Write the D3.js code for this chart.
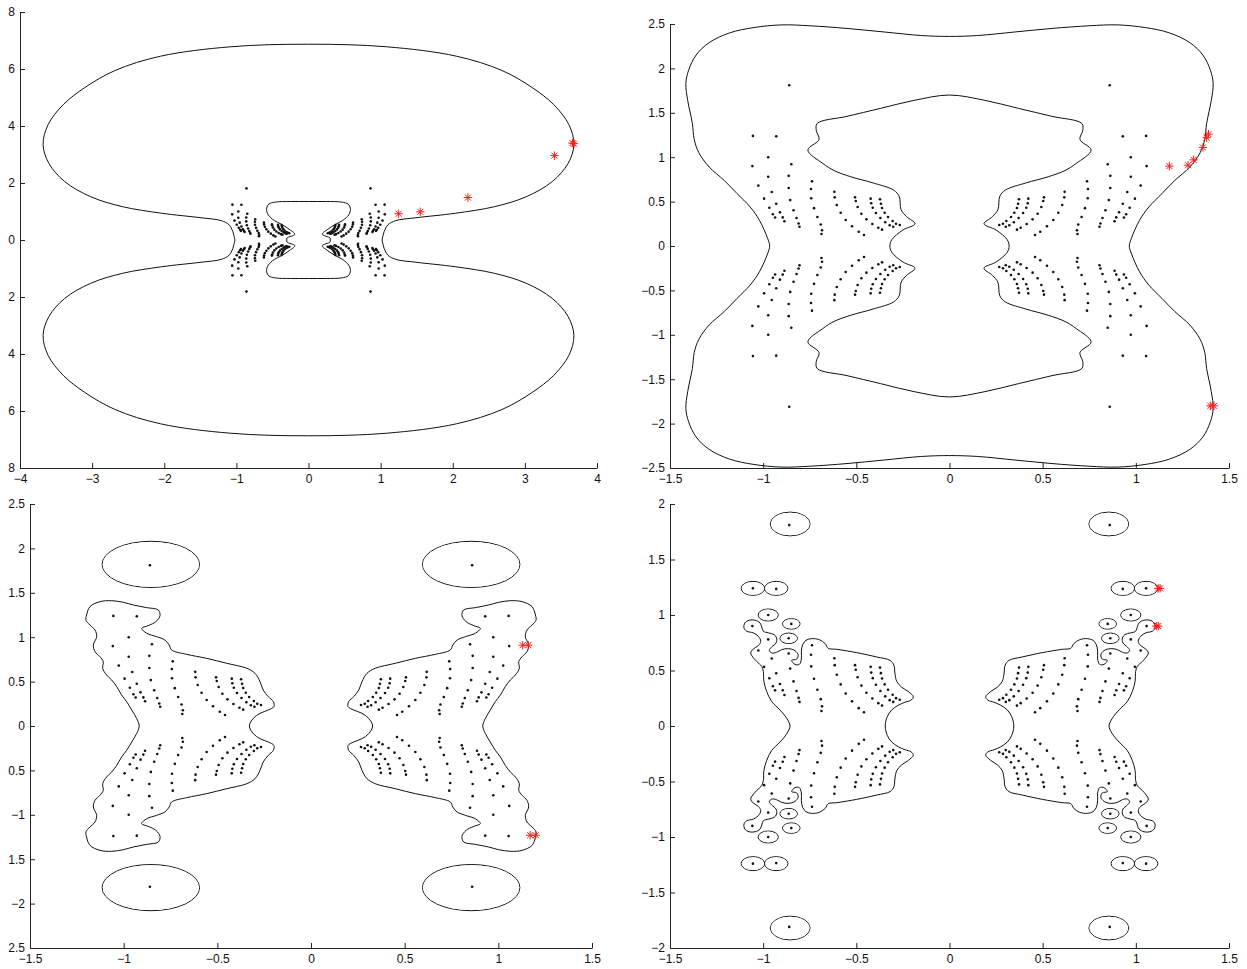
<!DOCTYPE html>
<html>
<head>
<meta charset="utf-8">
<script src="https://cdn.jsdelivr.net/npm/d3@7"></script>
<style>
  body { margin: 0; background: #fff; }
  text { font-family: "Liberation Sans", Arial, Helvetica, sans-serif; }
</style>
</head>
<body>
<svg id="fig" width="1247" height="969"></svg>
<script>
// eigenvalues, upper-left quadrant (the set is symmetric in x and y)
const eigQuadrant = [
  [-0.86, 1.81],
  [-1.055, 1.24], [-0.93, 1.235],
  [-0.973, 1.0],
  [-1.058, 0.90], [-0.849, 0.92],
  [-0.973, 0.78], [-0.863, 0.79],
  [-1.026, 0.68], [-0.954, 0.608], [-0.863, 0.653], [-0.738, 0.728], [-0.743, 0.642],
  [-0.995, 0.533], [-0.93, 0.475], [-0.855, 0.517], [-0.742, 0.537],
  [-0.967, 0.43], [-0.91, 0.379], [-0.837, 0.402], [-0.727, 0.426],
  [-0.948, 0.358], [-0.936, 0.321], [-0.895, 0.322], [-0.886, 0.279], [-0.821, 0.315], [-0.81, 0.253], [-0.805, 0.217],
  [-0.709, 0.327], [-0.691, 0.242], [-0.684, 0.177], [-0.687, 0.135],
  [-0.618, 0.61], [-0.616, 0.548], [-0.605, 0.462], [-0.584, 0.375], [-0.557, 0.293], [-0.523, 0.222], [-0.487, 0.161], [-0.459, 0.124],
  [-0.507, 0.548], [-0.503, 0.507], [-0.493, 0.439], [-0.473, 0.364], [-0.446, 0.30], [-0.414, 0.248], [-0.382, 0.206], [-0.362, 0.184],
  [-0.423, 0.533], [-0.42, 0.481], [-0.412, 0.431], [-0.395, 0.372], [-0.371, 0.315], [-0.345, 0.267], [-0.321, 0.233], [-0.302, 0.217],
  [-0.373, 0.526], [-0.368, 0.476], [-0.362, 0.428], [-0.348, 0.375], [-0.33, 0.327], [-0.305, 0.282], [-0.287, 0.251], [-0.267, 0.236]
];

// contour lines (quarters / halves, mirrored below)
const tlOuterQuarter = [
  [-1.02, 0], [-1.03, 0.12], [-1.05, 0.3], [-1.10, 0.53], [-1.21, 0.68], [-1.49, 0.78], [-2.04, 0.94],
  [-2.58, 1.17], [-3.02, 1.52], [-3.38, 2.05], [-3.60, 2.69], [-3.68, 3.35], [-3.61, 4.05],
  [-3.40, 4.75], [-3.10, 5.35], [-2.68, 5.95], [-2.05, 6.45], [-1.08, 6.78], [0, 6.87]
];
const tlInnerQuarter = [
  [-0.30, 0], [-0.30, 0.07], [-0.19, 0.20], [-0.27, 0.38], [-0.36, 0.53], [-0.50, 0.73],
  [-0.57, 0.94], [-0.58, 1.12], [-0.55, 1.26], [-0.46, 1.33], [-0.25, 1.35], [0, 1.35]
];
const trOuterQuarter = [
  [-0.965, 0], [-0.975, 0.08], [-1.02, 0.29], [-1.07, 0.44], [-1.14, 0.59], [-1.21, 0.74],
  [-1.29, 0.89], [-1.345, 1.05], [-1.37, 1.2], [-1.38, 1.38], [-1.405, 1.64], [-1.415, 1.83],
  [-1.40, 1.98], [-1.36, 2.15], [-1.29, 2.29], [-1.18, 2.40], [-1.05, 2.46], [-0.90, 2.49],
  [-0.75, 2.48], [-0.55, 2.45], [-0.35, 2.41], [-0.15, 2.37], [0, 2.36]
];
const trInnerQuarter = [
  [-0.32, 0], [-0.31, 0.07], [-0.25, 0.18], [-0.185, 0.25], [-0.23, 0.33], [-0.26, 0.41],
  [-0.27, 0.56], [-0.30, 0.63], [-0.41, 0.71], [-0.53, 0.78], [-0.62, 0.85], [-0.68, 0.93],
  [-0.76, 1.08], [-0.70, 1.20], [-0.715, 1.30], [-0.71, 1.38], [-0.55, 1.46], [-0.37, 1.55],
  [-0.19, 1.64], [0, 1.70]
];
const blBlobHalf = [
  [-0.917, 0], [-0.931, 0.086], [-0.957, 0.18], [-0.984, 0.274], [-1.011, 0.349], [-1.037, 0.443],
  [-1.064, 0.518], [-1.091, 0.574], [-1.112, 0.65], [-1.109, 0.725], [-1.127, 0.781], [-1.153, 0.837],
  [-1.162, 0.912], [-1.144, 1.006], [-1.153, 1.081], [-1.18, 1.137], [-1.201, 1.19], [-1.198, 1.25],
  [-1.18, 1.344], [-1.127, 1.40], [-1.064, 1.411], [-1.002, 1.393], [-0.949, 1.363], [-0.877, 1.333],
  [-0.815, 1.306], [-0.806, 1.242], [-0.828, 1.175], [-0.869, 1.13], [-0.904, 1.10], [-0.877, 1.044],
  [-0.824, 1.006], [-0.78, 0.968], [-0.757, 0.912], [-0.744, 0.856], [-0.664, 0.807], [-0.557, 0.762],
  [-0.45, 0.706], [-0.343, 0.65], [-0.299, 0.593], [-0.272, 0.499], [-0.255, 0.405], [-0.228, 0.33],
  [-0.201, 0.274], [-0.198, 0.218], [-0.228, 0.18], [-0.272, 0.143], [-0.308, 0.086], [-0.329, 0]
];
const brBlobHalf = [
  [-0.856, 0], [-0.874, 0.07], [-0.91, 0.145], [-0.954, 0.22], [-0.981, 0.31], [-0.996, 0.401],
  [-0.999, 0.491], [-1.008, 0.537], [-1.035, 0.582], [-1.056, 0.622], [-1.067, 0.658], [-1.053, 0.694],
  [-1.026, 0.724], [-1.013, 0.763], [-1.026, 0.808], [-1.053, 0.839], [-1.089, 0.854], [-1.103, 0.884],
  [-1.098, 0.929], [-1.075, 0.953], [-1.044, 0.953], [-1.017, 0.929], [-1.008, 0.893], [-0.999, 0.854],
  [-0.972, 0.839], [-0.942, 0.824], [-0.928, 0.794], [-0.931, 0.748], [-0.954, 0.712], [-0.967, 0.682],
  [-0.954, 0.658], [-0.928, 0.664], [-0.901, 0.688], [-0.865, 0.697], [-0.829, 0.679], [-0.812, 0.64],
  [-0.82, 0.603], [-0.847, 0.591], [-0.829, 0.555], [-0.806, 0.555], [-0.795, 0.603], [-0.795, 0.673],
  [-0.788, 0.733], [-0.77, 0.772], [-0.74, 0.787], [-0.699, 0.778], [-0.667, 0.742], [-0.651, 0.70],
  [-0.605, 0.691], [-0.498, 0.661], [-0.391, 0.622], [-0.319, 0.591], [-0.298, 0.546], [-0.293, 0.477],
  [-0.283, 0.401], [-0.257, 0.35], [-0.221, 0.31], [-0.194, 0.262], [-0.207, 0.232], [-0.239, 0.214],
  [-0.275, 0.187], [-0.31, 0.145], [-0.334, 0.084], [-0.345, 0]
];
// small closed level curves round isolated eigenvalues: [x, y, radius], upper-left quadrant
const blRings = [[-0.855, 1.82, 0.26]];
const brRings = [
  [-0.855, 1.82, 0.107], [-1.055, 1.24, 0.063], [-0.93, 1.24, 0.063],
  [-0.973, 1.0, 0.054], [-0.849, 0.92, 0.047], [-0.863, 0.79, 0.047]
];

// red markers
const tlStars = [[3.68, 3.38], [3.66, 3.40], [3.41, 2.96], [2.21, 1.49], [1.55, 0.99], [1.25, 0.92]];
const trStars = [[1.18, 0.90], [1.28, 0.91], [1.31, 0.97], [1.36, 1.11], [1.38, 1.22], [1.39, 1.26], [1.40, -1.80], [1.42, -1.80]];
const blStars = [[1.13, 0.91], [1.16, 0.91], [1.17, -1.23], [1.20, -1.23]];
const brStars = [[1.12, 1.24], [1.13, 1.24], [1.11, 0.90], [1.12, 0.90]];

// ticks and their labels as printed
const tlXTicks = [-4, -3, -2, -1, 0, 1, 2, 3, 4];
const tlXLabels = ["\u22124", "\u22123", "\u22122", "\u22121", "0", "1", "2", "3", "4"];
const tlYTicks = [-8, -6, -4, -2, 0, 2, 4, 6, 8];
const tlYLabels = ["8", "6", "4", "2", "0", "2", "4", "6", "8"];
const xTicks15 = [-1.5, -1, -0.5, 0, 0.5, 1, 1.5];
const xLabels15 = ["\u22121.5", "\u22121", "\u22120.5", "0", "0.5", "1", "1.5"];
const trYTicks = [-2.5, -2, -1.5, -1, -0.5, 0, 0.5, 1, 1.5, 2, 2.5];
const trYLabels = ["\u22122.5", "\u22122", "\u22121.5", "\u22121", "\u22120.5", "0", "0.5", "1", "1.5", "2", "2.5"];
const blYLabels = ["2.5", "\u22122", "1.5", "\u22121", "0.5", "0", "0.5", "1", "1.5", "2", "2.5"];
const brYTicks = [-2, -1.5, -1, -0.5, 0, 0.5, 1, 1.5, 2];
const brYLabels = ["\u22122", "\u22121.5", "\u22121", "\u22120.5", "0", "0.5", "1", "1.5", "2"];

// helpers for the symmetric shapes
function quad4(pts) {
  const out = [];
  pts.forEach(p => {
    out.push([p[0], p[1], p[2]], [-p[0], p[1], p[2]], [p[0], -p[1], p[2]], [-p[0], -p[1], p[2]]);
  });
  return out;
}
function closedFromQuarter(q) {
  const s2 = q.slice(0, -1).reverse().map(([a, b]) => [-a, b]);
  const s3 = q.slice(1).map(([a, b]) => [-a, -b]);
  const s4 = q.slice(1, -1).reverse().map(([a, b]) => [a, -b]);
  return q.concat(s2, s3, s4);
}
function closedFromHalf(h) {
  return h.concat(h.slice(1, -1).reverse().map(([a, b]) => [a, -b]));
}
const flipX = pts => pts.map(([a, b]) => [-a, b]);

const blLeft = closedFromHalf(blBlobHalf);
const brLeft = closedFromHalf(brBlobHalf);

const panels = [
  { box: [20, 597, 12, 468], xd: [-4, 4], yd: [-8, 8],
    xt: tlXTicks, xl: tlXLabels, yt: tlYTicks, yl: tlYLabels,
    paths: [closedFromQuarter(tlOuterQuarter), closedFromQuarter(tlInnerQuarter)],
    rings: [], stars: tlStars },
  { box: [670, 1229, 24, 468], xd: [-1.5, 1.5], yd: [-2.5, 2.5],
    xt: xTicks15, xl: xLabels15, yt: trYTicks, yl: trYLabels,
    paths: [closedFromQuarter(trOuterQuarter), closedFromQuarter(trInnerQuarter)],
    rings: [], stars: trStars },
  { box: [30, 592, 504, 948], xd: [-1.5, 1.5], yd: [-2.5, 2.5],
    xt: xTicks15, xl: xLabels15, yt: trYTicks, yl: blYLabels,
    paths: [blLeft, flipX(blLeft)],
    rings: quad4(blRings), stars: blStars },
  { box: [670, 1229, 504, 948], xd: [-1.5, 1.5], yd: [-2, 2],
    xt: xTicks15, xl: xLabels15, yt: brYTicks, yl: brYLabels,
    paths: [brLeft, flipX(brLeft)],
    rings: quad4(brRings), stars: brStars }
];

const eig = quad4(eigQuadrant);
const svg = d3.select("#fig");

panels.forEach(p => {
  const [x0, x1, y0, y1] = p.box;
  const x = d3.scaleLinear().domain(p.xd).range([x0, x1]);
  const y = d3.scaleLinear().domain(p.yd).range([y1, y0]);
  const g = svg.append("g");

  const line = d3.line()
    .x(d => x(d[0]))
    .y(d => y(d[1]))
    .curve(d3.curveCatmullRomClosed.alpha(0.5));

  g.selectAll("path.contour")
    .data(p.paths)
    .enter().append("path")
    .attr("class", "contour")
    .attr("d", line)
    .attr("fill", "none")
    .attr("stroke", "#111")
    .attr("stroke-width", 1);

  // rings: strokes first, then white discs to merge touching rings
  g.selectAll("ellipse.ring")
    .data(p.rings)
    .enter().append("ellipse")
    .attr("class", "ring")
    .attr("cx", d => x(d[0]))
    .attr("cy", d => y(d[1]))
    .attr("rx", d => x(d[0] + d[2]) - x(d[0]))
    .attr("ry", d => y(d[1]) - y(d[1] + d[2]))
    .attr("fill", "none")
    .attr("stroke", "#111")
    .attr("stroke-width", 1);
  g.selectAll("ellipse.hole")
    .data(p.rings)
    .enter().append("ellipse")
    .attr("class", "hole")
    .attr("cx", d => x(d[0]))
    .attr("cy", d => y(d[1]))
    .attr("rx", d => x(d[0] + d[2]) - x(d[0]) - 0.6)
    .attr("ry", d => y(d[1]) - y(d[1] + d[2]) - 0.6)
    .attr("fill", "#fff");

  g.selectAll("circle.eig")
    .data(eig)
    .enter().append("circle")
    .attr("class", "eig")
    .attr("cx", d => x(d[0]))
    .attr("cy", d => y(d[1]))
    .attr("r", 1.3)
    .attr("fill", "#111");

  // red asterisks
  const s = 4.2;
  const star = g.selectAll("g.star")
    .data(p.stars)
    .enter().append("g")
    .attr("class", "star")
    .attr("transform", d => `translate(${x(d[0])},${y(d[1])})`)
    .attr("stroke", "#ff1a1a")
    .attr("stroke-width", 1);
  star.append("path").attr("d", `M${-s},0H${s}M0,${-s}V${s}M${-s*0.72},${-s*0.72}L${s*0.72},${s*0.72}M${-s*0.72},${s*0.72}L${s*0.72},${-s*0.72}`);

  // axes, ticks inside
  const ax = g.append("g")
    .attr("transform", `translate(0,${y1})`)
    .call(d3.axisBottom(x).tickValues(p.xt).tickFormat((d, i) => p.xl[i])
      .tickSizeInner(-5).tickSizeOuter(0).tickPadding(6));
  const ay = g.append("g")
    .attr("transform", `translate(${x0},0)`)
    .call(d3.axisLeft(y).tickValues(p.yt).tickFormat((d, i) => p.yl[i])
      .tickSizeInner(-5).tickSizeOuter(0).tickPadding(5));
  [ax, ay].forEach(a => {
    a.select(".domain").attr("stroke", "#222");
    a.selectAll(".tick line").attr("stroke", "#222");
    a.selectAll(".tick text")
      .attr("fill", "#111")
      .attr("font-size", 12)
      .attr("font-family", "'Liberation Sans', Arial, Helvetica, sans-serif");
  });
});
</script>
</body>
</html>
